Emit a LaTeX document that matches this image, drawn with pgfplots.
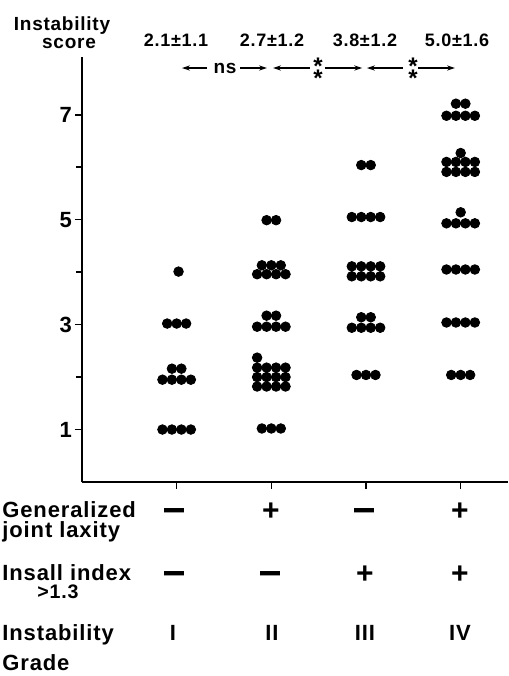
\documentclass[border=0pt]{standalone}
\usepackage{fontspec}
\setmainfont{Liberation Sans}[LetterSpace=4]
\usepackage{graphicx}
\usepackage{pgfplots}
\pgfplotsset{compat=1.18}
\usetikzlibrary{arrows.meta}

% thick dash used for the "minus" signs
\newcommand{\minussign}{\scalebox{1}[2.2]{—}}
% two stacked asterisks
\newcommand{\twostars}{*\llap{\raisebox{-5.6pt}{*}}}

\begin{document}
\begin{tikzpicture}[
    minus/.style={inner sep=0, yshift=-2.6pt, font=\fontsize{10}{10}\selectfont\bfseries},
    plus/.style={inner sep=0, yshift=-0.8pt, font=\fontsize{15}{15}\selectfont\bfseries},
    arr/.style={line width=0.65pt},
]
\begin{axis}[
    scale only axis,
    width=213pt, height=212.5pt,
    xmin=0, xmax=4.5,
    ymin=0, ymax=8.1,
    axis lines*=left,
    axis line style={line width=1.1pt},
    tick align=outside,
    xtick pos=bottom, ytick pos=left,
    xtick={1,2,3,4}, xticklabels={},
    ytick={1,3,5,7}, minor ytick={2,4,6},
    major tick length=3.5pt, minor tick length=3pt,
    every tick/.style={black, line width=0.8pt},
    /pgf/number format/assume math mode=true,
    yticklabel style={font=\fontsize{11}{11}\selectfont\bfseries, xshift=2pt},
    clip=false,
]
% grade I
\addplot[only marks, mark=*, mark size=2.4pt, black] coordinates {
    (0.85,1.0)(0.95,1.0)(1.05,1.0)(1.15,1.0)
    (0.85,1.95)(0.95,1.95)(1.05,1.95)(1.15,1.95)
    (0.95,2.16)(1.05,2.16)
    (0.9,3.02)(1.0,3.02)(1.1,3.02)
    (1.02,4.01)
};
% grade II
\addplot[only marks, mark=*, mark size=2.4pt, black] coordinates {
    (1.9,1.02)(2.0,1.02)(2.1,1.02)
    (1.85,1.82)(1.95,1.82)(2.05,1.82)(2.15,1.82)
    (1.85,2.0)(1.95,2.0)(2.05,2.0)(2.15,2.0)
    (1.85,2.18)(1.95,2.18)(2.05,2.18)(2.15,2.18)
    (1.85,2.37)
    (1.85,2.96)(1.95,2.96)(2.05,2.96)(2.15,2.96)
    (1.95,3.17)(2.05,3.17)
    (1.85,3.96)(1.95,3.96)(2.05,3.96)(2.15,3.96)
    (1.9,4.13)(2.0,4.13)(2.1,4.13)
    (1.95,4.99)(2.05,4.99)
};
% grade III
\addplot[only marks, mark=*, mark size=2.4pt, black] coordinates {
    (2.9,2.04)(3.0,2.04)(3.1,2.04)
    (2.85,2.94)(2.95,2.94)(3.05,2.94)(3.15,2.94)
    (2.95,3.14)(3.05,3.14)
    (2.85,3.92)(2.95,3.92)(3.05,3.92)(3.15,3.92)
    (2.85,4.11)(2.95,4.11)(3.05,4.11)(3.15,4.11)
    (2.85,5.05)(2.95,5.05)(3.05,5.05)(3.15,5.05)
    (2.95,6.04)(3.05,6.04)
};
% grade IV
\addplot[only marks, mark=*, mark size=2.4pt, black] coordinates {
    (3.9,2.04)(4.0,2.04)(4.1,2.04)
    (3.85,3.04)(3.95,3.04)(4.05,3.04)(4.15,3.04)
    (3.85,4.05)(3.95,4.05)(4.05,4.05)(4.15,4.05)
    (3.85,4.93)(3.95,4.93)(4.05,4.93)(4.15,4.93)
    (4.0,5.14)
    (3.85,5.91)(3.95,5.91)(4.05,5.91)(4.15,5.91)
    (3.85,6.10)(3.95,6.10)(4.05,6.10)(4.15,6.10)
    (4.0,6.27)
    (3.85,6.98)(3.95,6.98)(4.05,6.98)(4.15,6.98)
    (3.95,7.21)(4.05,7.21)
};

% header
\node[anchor=base, font=\fontsize{9.5}{9.5}\selectfont\bfseries] at (axis cs:-0.211,8.614) {Instability};
\node[anchor=base, font=\fontsize{9.5}{9.5}\selectfont\bfseries] at (axis cs:-0.137,8.271) {score};
\node[anchor=base, font=\fontsize{9}{9}\selectfont\bfseries] at (axis cs:0.993,8.291) {2.1±1.1};
\node[anchor=base, font=\fontsize{9}{9}\selectfont\bfseries] at (axis cs:2.007,8.291) {2.7±1.2};
\node[anchor=base, font=\fontsize{9}{9}\selectfont\bfseries] at (axis cs:2.989,8.291) {3.8±1.2};
\node[anchor=base, font=\fontsize{9}{9}\selectfont\bfseries] at (axis cs:3.961,8.291) {5.0±1.6};

% significance arrows
\draw[arr, {Stealth[length=4pt,width=2.6pt]}-] (axis cs:1.056,7.89) -- (axis cs:1.32,7.89);
\draw[arr, -{Stealth[length=4pt,width=2.6pt]}] (axis cs:1.67,7.89) -- (axis cs:1.954,7.89);
\node[inner sep=0, font=\fontsize{9.5}{9.5}\selectfont\bfseries] at (axis cs:1.511,7.89) {ns};
\draw[arr, {Stealth[length=4pt,width=2.6pt]}-] (axis cs:2.018,7.89) -- (axis cs:2.41,7.89);
\draw[arr, -{Stealth[length=4pt,width=2.6pt]}] (axis cs:2.57,7.89) -- (axis cs:2.96,7.89);
\draw[arr, {Stealth[length=4pt,width=2.6pt]}-] (axis cs:3.01,7.89) -- (axis cs:3.39,7.89);
\draw[arr, -{Stealth[length=4pt,width=2.6pt]}] (axis cs:3.55,7.89) -- (axis cs:3.94,7.89);
\node[anchor=north, inner sep=0, font=\fontsize{12}{12}\selectfont\bfseries] at (axis cs:2.493,8.081) {\twostars};
\node[anchor=north, inner sep=0, font=\fontsize{12}{12}\selectfont\bfseries] at (axis cs:3.496,8.081) {\twostars};

% table below the axis
\begin{scope}[every node/.append style={font=\fontsize{11}{11}\selectfont\bfseries}]
\node[anchor=base west, inner sep=0] at (axis cs:-0.845,-0.667) {Generalized};
\node[anchor=base west, inner sep=0] at (axis cs:-0.845,-1.048) {joint laxity};
\node[anchor=base west, inner sep=0] at (axis cs:-0.845,-1.868) {Insall index};
\node[anchor=base west, inner sep=0, font=\fontsize{9.8}{9.8}\selectfont\bfseries] at (axis cs:-0.475,-2.211) {>1.3};
\node[anchor=base west, inner sep=0] at (axis cs:-0.845,-3.011) {Instability};
\node[anchor=base west, inner sep=0] at (axis cs:-0.845,-3.583) {Grade};
\node[anchor=base] at (axis cs:0.961,-3.011) {I};
\node[anchor=base] at (axis cs:2.007,-3.011) {II};
\node[anchor=base] at (axis cs:2.989,-3.011) {III};
\node[anchor=base] at (axis cs:3.993,-3.011) {IV};
\end{scope}
\node[minus] at (axis cs:0.982,-0.534) {\minussign};
\node[plus] at (axis cs:1.996,-0.534) {+};
\node[minus] at (axis cs:2.989,-0.534) {\minussign};
\node[plus] at (axis cs:3.993,-0.534) {+};
\node[minus] at (axis cs:0.982,-1.734) {\minussign};
\node[minus] at (axis cs:1.996,-1.734) {\minussign};
\node[plus] at (axis cs:2.989,-1.734) {+};
\node[plus] at (axis cs:3.993,-1.734) {+};

\coordinate (bl) at (axis cs:-0.866,-3.697);
\coordinate (tr) at (axis cs:4.5,9.186);
\end{axis}
\pgfresetboundingbox
\path[use as bounding box] (bl) rectangle (tr);
\end{tikzpicture}
\end{document}
